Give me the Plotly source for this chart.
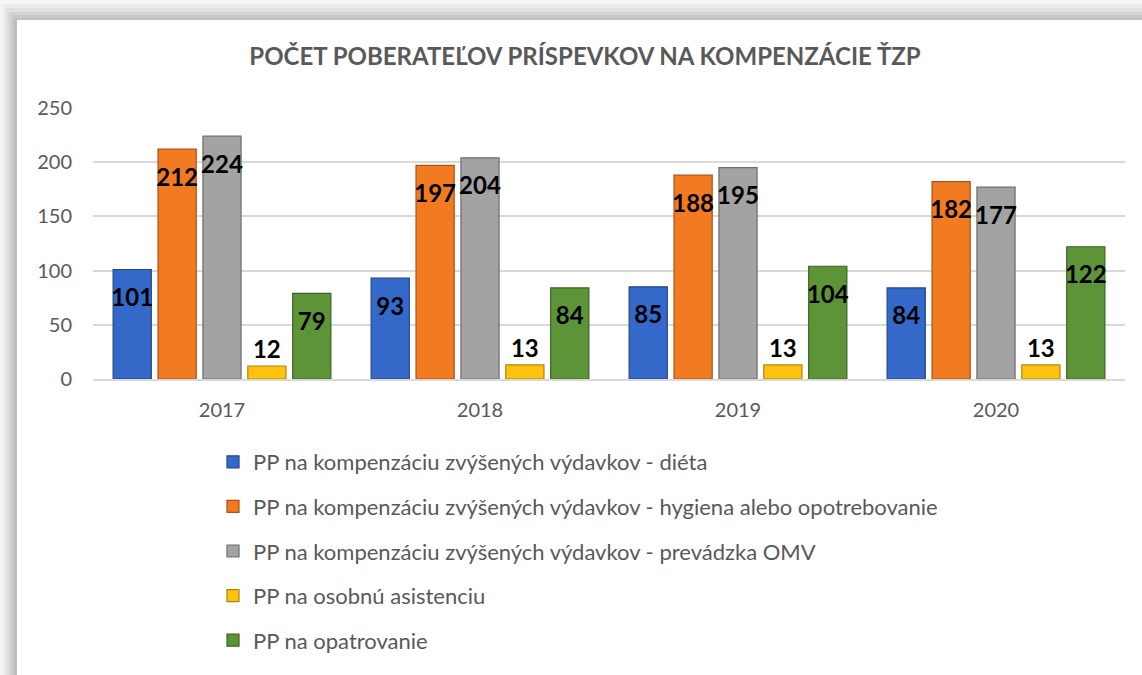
import plotly.graph_objects as go

years = ["2017", "2018", "2019", "2020"]
series_names = [
    "PP na kompenzáciu zvýšených výdavkov - diéta",
    "PP na kompenzáciu zvýšených výdavkov - hygiena alebo opotrebovanie",
    "PP na kompenzáciu zvýšených výdavkov - prevádzka OMV",
    "PP na osobnú asistenciu",
    "PP na opatrovanie",
]
dieta = [101, 93, 85, 84]
hygiena = [212, 197, 188, 182]
omv = [224, 204, 195, 177]
asistencia = [12, 13, 13, 13]
opatrovanie = [79, 84, 104, 122]
values = [dieta, hygiena, omv, asistencia, opatrovanie]

fills = ["#3569c9", "#f27b21", "#a3a3a3", "#ffc20e", "#5e9438"]
edges = ["#23468a", "#a9521a", "#6e6e6e", "#b08600", "#3c6224"]
label_pos = ["bottom center", "bottom center", "bottom center", "top center", "bottom center"]
label_gap = [28, 28, 28, 1, 28]   # invisible marker size -> label offset from bar top

W, H = 1142, 675
L, R, T, B = 93, 17, 108, 296
pw, ph = W - L - R, H - T - B
GAP = 0.13

def px(x):
    return (x - L) / pw

def py(y):
    return (H - B - y) / ph

fig = go.Figure()
for i, (name, vals) in enumerate(zip(series_names, values)):
    fig.add_trace(go.Bar(
        x=years, y=vals, name=name,
        legendgroup=f"g{i}",
        marker=dict(color=fills[i], line=dict(color=edges[i], width=1.2)),
        hoverinfo="skip",
    ))
for i, (name, vals) in enumerate(zip(series_names, values)):
    fig.add_trace(go.Scatter(
        x=years, y=vals, name=name, showlegend=False,
        legendgroup=f"g{i}",
        mode="markers+text",
        marker=dict(size=label_gap[i], color="rgba(0,0,0,0)"),
        text=[str(v) for v in vals],
        textposition=label_pos[i],
        textfont=dict(family="Lato", size=24, color="#000000", weight="bold"),
        cliponaxis=False,
        hoverinfo="skip",
    ))

# frame shadow
shapes = []
shades = [(0, 0, "#f6f6f6"), (3, 4, "#ececec"), (6, 8, "#e0e0e0"),
          (9, 12, "#d3d3d3"), (12, 15, "#c8c8c8"), (14, 18, "#bfbfbf"),
          (17, 20, "#ffffff")]
for x0, y0, c in shades:
    shapes.append(dict(type="rect", xref="paper", yref="paper",
                       x0=px(x0), x1=px(W + 10), y0=py(H + 10), y1=py(y0),
                       fillcolor=c, line=dict(width=0), layer="below"))

fig.update_layout(
    width=W, height=H,
    margin=dict(l=L, r=R, t=T, b=B, autoexpand=False),
    paper_bgcolor="rgba(0,0,0,0)",
    plot_bgcolor="rgba(0,0,0,0)",
    shapes=shapes,
    barmode="group",
    bargap=GAP,
    bargroupgap=0.15,
    scattermode="group",
    scattergap=GAP,
    title=dict(text="<b>POČET POBERATEĽOV PRÍSPEVKOV NA KOMPENZÁCIE ŤZP</b>",
               x=585 / W, xanchor="center", y=1 - 57 / H, yanchor="middle",
               font=dict(family="Lato", size=24, color="#595959")),
    font=dict(family="Lato", color="#595959"),
    xaxis=dict(showgrid=False, showline=True, linecolor="#d9d9d9", linewidth=1.5,
               ticks="", tickfont=dict(size=20, color="#595959"),
               ticklabelstandoff=12),
    yaxis=dict(range=[0, 250], dtick=50, showgrid=True, gridcolor="#d9d9d9",
               gridwidth=1.5, zeroline=False, ticks="",
               tickfont=dict(size=20, color="#595959"), ticklabelstandoff=20),
    legend=dict(orientation="v", x=px(213), xanchor="left",
                y=py(441), yanchor="top", tracegroupgap=13,
                itemwidth=30, font=dict(family="Lato", size=22, color="#595959"),
                bgcolor="rgba(0,0,0,0)"),
    showlegend=True,
)
fig.write_html("out.html", config={"displayModeBar": False},
               post_script="document.body.style.margin='0';document.body.style.overflow='hidden';")
